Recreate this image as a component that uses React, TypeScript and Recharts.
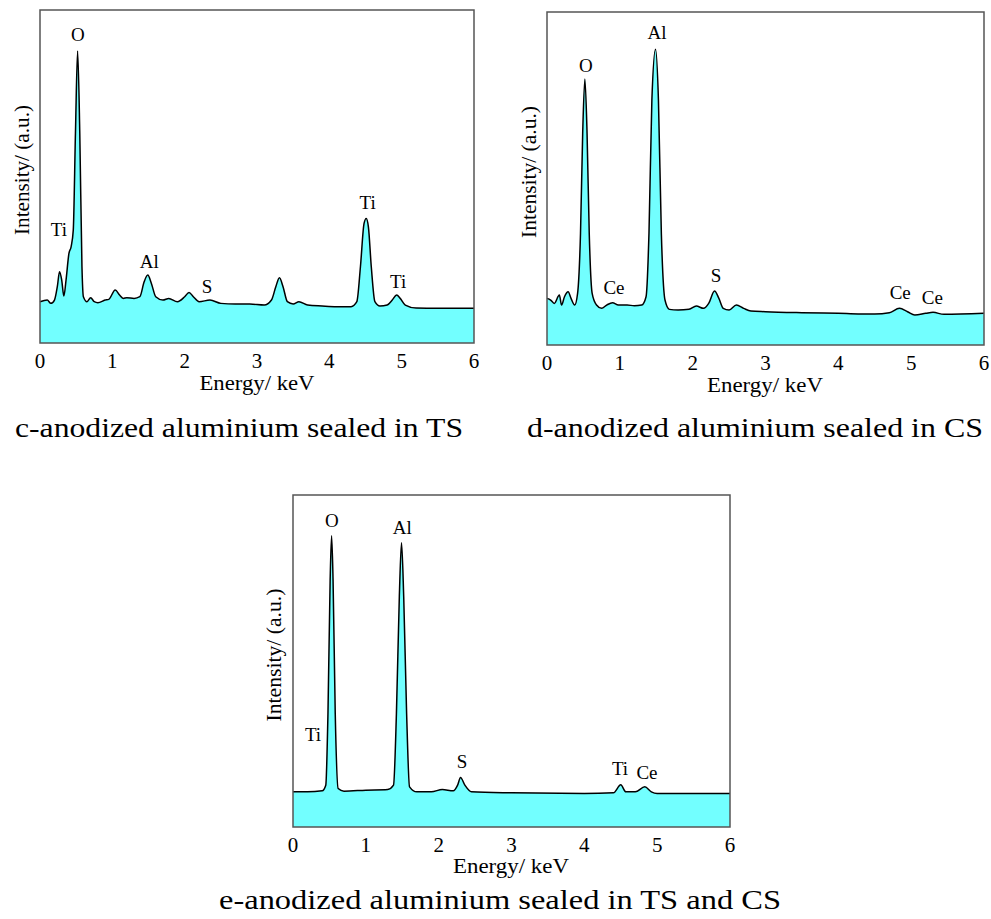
import React from "react";
import {
  AreaChart,
  Area,
  XAxis,
  YAxis,
  ReferenceArea,
  ReferenceDot,
} from "recharts";

const SERIF = "'Liberation Serif', 'Times New Roman', Times, serif";
const FILL = "#72FFFF";
const TICKS = [0, 1, 2, 3, 4, 5, 6];

// panel c - sealed in TS
const energyC = [
  0, 0.1, 0.15, 0.2, 0.24, 0.27, 0.3, 0.33, 0.36, 0.4, 0.43, 0.46, 0.49, 0.52,
  0.55, 0.58, 0.6, 0.65, 0.7, 0.75, 0.8, 0.9, 0.95, 1.04, 1.1, 1.15, 1.2, 1.3,
  1.38, 1.44, 1.49, 1.54, 1.6, 1.7, 1.78, 1.9, 2.0, 2.06, 2.12, 2.2, 2.35, 2.5,
  2.7, 2.9, 3.1, 3.2, 3.26, 3.31, 3.36, 3.42, 3.5, 3.58, 3.7, 3.9, 4.1, 4.3,
  4.38, 4.43, 4.48, 4.51, 4.54, 4.58, 4.63, 4.7, 4.8, 4.87, 4.93, 4.98, 5.05,
  5.2, 5.5, 6.0,
];
const countsC = [
  12.4, 12.9, 11.9, 12.9, 17, 21.4, 18.9, 14.1, 18.9, 26.9, 28.9, 33.9, 62.9,
  87.7, 63, 23, 13.9, 12.4, 13.6, 12.4, 12.1, 12.9, 13.1, 15.9, 14.4, 13.4,
  13.6, 13.4, 13.9, 18.4, 20.4, 17.9, 13.9, 12.9, 13.4, 12.4, 13.9, 15.2, 13.9,
  12.4, 12.9, 11.9, 11.7, 11.7, 11.4, 12.9, 16.9, 19.6, 16.9, 12.4, 11.7, 12.4,
  11.4, 11.1, 10.9, 10.9, 12.4, 22.9, 35.9, 37.4, 34.9, 22.9, 12.4, 11.1, 11.4,
  12.9, 14.4, 13.4, 11.4, 10.5, 10.4, 10.4,
];
const peakNamesC = ["O", "Ti", "Al", "S", "Ti", "Ti"];
const peakEnergyC = [0.525, 0.26, 1.51, 2.31, 4.53, 4.95];
const peakHeightC = [92.5, 33.9, 24.3, 16.8, 42, 18.3];

// panel d - sealed in CS
const energyD = [
  0, 0.05, 0.1, 0.17, 0.2, 0.24, 0.29, 0.33, 0.38, 0.42, 0.46, 0.49, 0.52, 0.55,
  0.58, 0.62, 0.68, 0.75, 0.82, 0.9, 0.98, 1.1, 1.2, 1.3, 1.36, 1.4, 1.44, 1.49,
  1.53, 1.57, 1.62, 1.68, 1.8, 1.95, 2.05, 2.15, 2.22, 2.3, 2.36, 2.42, 2.5,
  2.6, 2.7, 2.8, 3.0, 3.5, 4.0, 4.5, 4.7, 4.84, 4.95, 5.05, 5.2, 5.3, 5.45, 6.0,
];
const countsD = [
  14, 13.5, 12.5, 15, 12, 14.5, 16, 14, 12, 15.5, 33.5, 63.6, 79.9, 63.6, 33.5,
  15.5, 12, 11, 12, 12.7, 12, 12, 11.8, 12, 14.5, 33.5, 73.6, 88.8, 73.6, 33.5,
  13.5, 10.7, 10.5, 10.7, 11.7, 11, 12.5, 16.2, 14, 11, 10.5, 12, 11, 10.2, 10,
  9.7, 9.5, 9.3, 9.7, 11, 10, 9, 9.5, 9.8, 9.2, 9.5,
];
const peakNamesD = ["O", "Al", "Ce", "S", "Ce", "Ce"];
const peakEnergyD = [0.535, 1.51, 0.92, 2.32, 4.85, 5.29];
const peakHeightD = [83.8, 93.7, 17.1, 20.7, 15.6, 14.1];

// panel e - sealed in TS and CS
const energyE = [
  0, 0.2, 0.4, 0.45, 0.48, 0.51, 0.53, 0.55, 0.58, 0.62, 0.7, 1.0, 1.3, 1.38,
  1.42, 1.46, 1.49, 1.52, 1.56, 1.6, 1.7, 1.9, 2.05, 2.2, 2.26, 2.3, 2.36, 2.45,
  3.0, 4.0, 4.4, 4.5, 4.57, 4.7, 4.83, 4.92, 5.0, 6.0,
];
const countsE = [
  10.6, 10.6, 10.9, 12.6, 34.2, 74.4, 87.7, 74.4, 34.2, 11.6, 10.8, 11.1, 11.3,
  12.6, 34.2, 69.4, 85.6, 69.4, 34.2, 12.1, 10.6, 10.6, 11.3, 10.9, 12.6, 14.9,
  12.6, 10.6, 10.3, 10.1, 10.3, 12.7, 10.6, 10.6, 12.1, 10.6, 10.1, 10.1,
];
const peakNamesE = ["O", "Al", "Ti", "S", "Ti", "Ce"];
const peakEnergyE = [0.535, 1.5, 0.275, 2.32, 4.49, 4.86];
const peakHeightE = [92.2, 90.1, 27.7, 19.6, 17.5, 16.3];

type PanelProps = {
  left: number;
  top: number;
  width: number;
  height: number;
  margin: { top: number; right: number; bottom: number; left: number };
  energy: number[];
  counts: number[];
  names: string[];
  peakE: number[];
  peakH: number[];
};

const SerifTick = (props: any) => {
  const { x, y, payload } = props;
  return (
    <text
      x={x}
      y={y + 17}
      textAnchor="middle"
      fontSize={21}
      fill="#000"
      style={{ fontFamily: SERIF }}
    >
      {payload.value}
    </text>
  );
};

const PeakLabel = (props: any) => {
  const { viewBox, value } = props;
  const cx = viewBox.x + (viewBox.width || 0) / 2;
  const cy = viewBox.y + (viewBox.height || 0) / 2;
  return (
    <text
      x={cx}
      y={cy + 6}
      textAnchor="middle"
      fontSize={19}
      fill="#000"
      style={{ fontFamily: SERIF }}
    >
      {value}
    </text>
  );
};

const Panel = (p: PanelProps) => {
  const rows = p.energy.map((e, i) => ({ e, v: p.counts[i] }));
  return (
    <div style={{ position: "absolute", left: p.left, top: p.top }}>
      <AreaChart width={p.width} height={p.height} data={rows} margin={p.margin}>
        <XAxis
          dataKey="e"
          type="number"
          domain={[0, 6]}
          ticks={TICKS}
          tickLine={false}
          axisLine={false}
          height={40}
          tick={<SerifTick />}
        />
        <YAxis hide type="number" domain={[0, 100]} />
        <Area
          type="monotone"
          dataKey="v"
          stroke="#000"
          strokeWidth={1.5}
          fill={FILL}
          fillOpacity={1}
          dot={false}
          activeDot={false}
          isAnimationActive={false}
        />
        <ReferenceArea
          x1={0}
          x2={6}
          y1={0}
          y2={100}
          fill="none"
          fillOpacity={0}
          stroke="#555"
          strokeWidth={1.5}
        />
        {p.names.map((n, i) => (
          <ReferenceDot
            key={i}
            x={p.peakE[i]}
            y={p.peakH[i]}
            r={0}
            fill="none"
            stroke="none"
            label={<PeakLabel value={n} />}
          />
        ))}
      </AreaChart>
    </div>
  );
};

const txtStyle = { fontFamily: SERIF };

const App = () => {
  return (
    <div
      style={{
        position: "absolute",
        left: 0,
        top: 0,
        width: 991,
        height: 919,
        background: "#fff",
      }}
    >
      <Panel
        left={0}
        top={0}
        width={480}
        height={400}
        margin={{ top: 10, right: 6, bottom: 17, left: 40 }}
        energy={energyC}
        counts={countsC}
        names={peakNamesC}
        peakE={peakEnergyC}
        peakH={peakHeightC}
      />
      <Panel
        left={500}
        top={0}
        width={491}
        height={400}
        margin={{ top: 12, right: 7, bottom: 15, left: 47 }}
        energy={energyD}
        counts={countsD}
        names={peakNamesD}
        peakE={peakEnergyD}
        peakH={peakHeightD}
      />
      <Panel
        left={250}
        top={480}
        width={500}
        height={400}
        margin={{ top: 15, right: 20, bottom: 13, left: 43 }}
        energy={energyE}
        counts={countsE}
        names={peakNamesE}
        peakE={peakEnergyE}
        peakH={peakHeightE}
      />
      <svg
        width={991}
        height={919}
        style={{ position: "absolute", left: 0, top: 0, pointerEvents: "none" }}
      >
        {/* axis titles */}
        <text x={257} y={390} textAnchor="middle" fontSize={20} fill="#000" textLength={115} lengthAdjust="spacingAndGlyphs" style={txtStyle}>
          Energy/ keV
        </text>
        <text x={765} y={392} textAnchor="middle" fontSize={20} fill="#000" textLength={116} lengthAdjust="spacingAndGlyphs" style={txtStyle}>
          Energy/ keV
        </text>
        <text x={511} y={873} textAnchor="middle" fontSize={20} fill="#000" textLength={116} lengthAdjust="spacingAndGlyphs" style={txtStyle}>
          Energy/ keV
        </text>
        <text transform="translate(29,170) rotate(-90)" textAnchor="middle" fontSize={20} fill="#000" textLength={130} lengthAdjust="spacingAndGlyphs" style={txtStyle}>
          Intensity/ (a.u.)
        </text>
        <text transform="translate(536,172) rotate(-90)" textAnchor="middle" fontSize={20} fill="#000" textLength={132} lengthAdjust="spacingAndGlyphs" style={txtStyle}>
          Intensity/ (a.u.)
        </text>
        <text transform="translate(281,655) rotate(-90)" textAnchor="middle" fontSize={20} fill="#000" textLength={133} lengthAdjust="spacingAndGlyphs" style={txtStyle}>
          Intensity/ (a.u.)
        </text>
        {/* captions */}
        <text x={239} y={437} textAnchor="middle" fontSize={28} fill="#000" textLength={448} lengthAdjust="spacingAndGlyphs" style={txtStyle}>
          c-anodized aluminium sealed in TS
        </text>
        <text x={755} y={437} textAnchor="middle" fontSize={28} fill="#000" textLength={456} lengthAdjust="spacingAndGlyphs" style={txtStyle}>
          d-anodized aluminium sealed in CS
        </text>
        <text x={500} y={909} textAnchor="middle" fontSize={28} fill="#000" textLength={562} lengthAdjust="spacingAndGlyphs" style={txtStyle}>
          e-anodized aluminium sealed in TS and CS
        </text>
      </svg>
    </div>
  );
};

export default App;
